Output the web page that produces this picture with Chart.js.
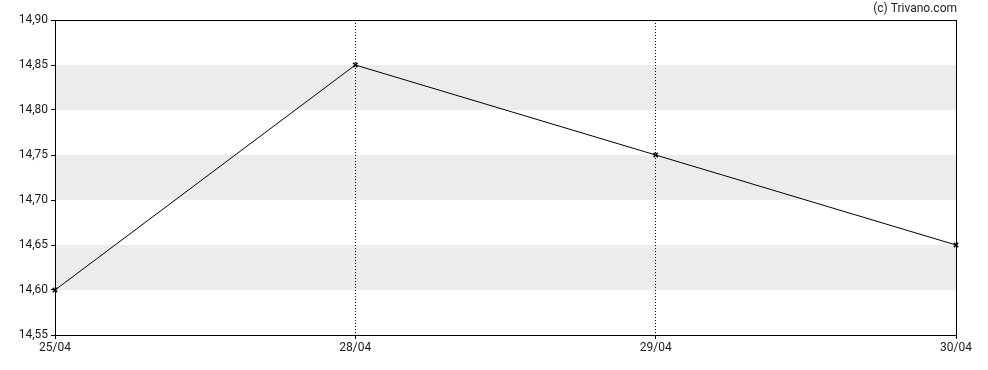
<!DOCTYPE html>
<html>
<head>
<meta charset="utf-8">
<script src="https://cdn.jsdelivr.net/npm/chart.js@4"></script>
<style>
  html, body { margin: 0; padding: 0; background: #fff; }
  #wrap { width: 988px; height: 370px; }
</style>
</head>
<body>
<div id="wrap"><canvas id="c" width="988" height="370"></canvas></div>
<script>
const labels  = ['25/04', '28/04', '29/04', '30/04'];
const closes  = [14.60, 14.85, 14.75, 14.65];
const bandLo  = [14.60, 14.70, 14.80];   // grey stripes, each 0.05 high
const bandH   = 0.05;
const yMin = 14.55, yMax = 14.90, yStep = 0.05;

const FONT = 'Roboto, "Liberation Sans", Arial, sans-serif';

const bands = {
  id: 'bands',
  beforeDraw(chart) {
    // stripes go under the grid
    const { ctx, chartArea: a, scales: { y } } = chart;
    ctx.save();
    ctx.fillStyle = '#ececec';
    bandLo.forEach(v => {
      const t = y.getPixelForValue(v + bandH), b = y.getPixelForValue(v);
      ctx.fillRect(a.left, t, a.right - a.left, b - t);
    });
    ctx.restore();
  },
  afterDraw(chart) {
    const { ctx, chartArea: a } = chart;
    ctx.save();
    ctx.strokeStyle = '#000';
    ctx.lineWidth = 1;
    ctx.strokeRect(Math.round(a.left) + 0.5, Math.round(a.top) + 0.5,
      Math.round(a.right - a.left), Math.round(a.bottom - a.top));
    ctx.fillStyle = '#222';
    ctx.font = '12px ' + FONT;
    ctx.textAlign = 'right';
    ctx.textBaseline = 'middle';
    ctx.fillText('(c) Trivano.com', a.right + 1, 9);
    ctx.restore();
  }
};

new Chart(document.getElementById('c'), {
  type: 'line',
  data: {
    labels,
    datasets: [{
      data: closes,
      borderColor: '#000', borderWidth: 1, tension: 0,
      pointStyle: 'crossRot', pointRadius: 3, pointBorderWidth: 1.5,
      pointBorderColor: '#000', pointBackgroundColor: '#000',
    }],
  },
  options: {
    responsive: false, animation: false,
    layout: { padding: { top: 20, right: 32, left: 0, bottom: 0 } },
    plugins: { legend: { display: false }, tooltip: { enabled: false } },
    scales: {
      x: {
        type: 'category', offset: false,
        afterFit: s => { s.height = 35; },
        grid: { color: '#000', lineWidth: 1, tickColor: '#000', tickLength: 4, drawOnChartArea: true },
        border: { display: false, dash: [1, 2] },
        ticks: { color: '#1a1a1a', font: { family: FONT, size: 12 }, padding: 2, maxRotation: 0, autoSkip: false },
      },
      y: {
        min: yMin, max: yMax,
        afterFit: s => { s.width = 55; },
        grid: { drawOnChartArea: false, tickColor: '#000', tickLength: 4 },
        border: { display: false },
        ticks: { stepSize: yStep, color: '#1a1a1a', font: { family: FONT, size: 12 }, padding: 3,
          callback: v => v.toFixed(2).replace('.', ',') },
      },
    },
  },
  plugins: [bands],
});
</script>
</body>
</html>
